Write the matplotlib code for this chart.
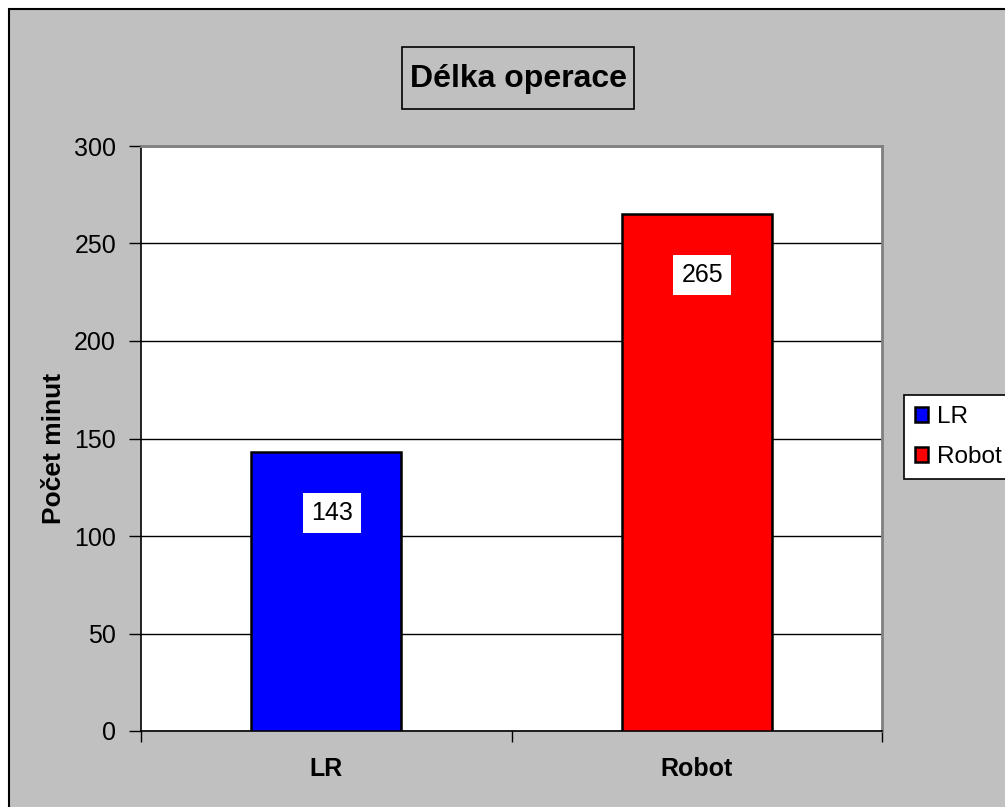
import matplotlib
matplotlib.use("Agg")
import matplotlib.pyplot as plt
from matplotlib.patches import Rectangle

plt.rcParams['font.family'] = ['Liberation Sans', 'DejaVu Sans']

# data
categories = ["LR", "Robot"]
minutes = [143, 265]
colors = ["#0000ff", "#ff0000"]
yticks = [0, 50, 100, 150, 200, 250, 300]

W, H = 1005, 807
fig = plt.figure(figsize=(W / 100, H / 100), dpi=100)
fig.patch.set_facecolor("white")

# gray chart area with border (runs off the right/bottom edge)
fig.patches.append(Rectangle((8.5 / W, -0.1), 1.2, 1 - 9 / H + 0.1,
                             transform=fig.transFigure, facecolor="#c0c0c0",
                             edgecolor="black", lw=1.5, zorder=-10))

ax = fig.add_axes([141 / W, 76 / H, 741 / W, 585 / H])
ax.set_zorder(1)
ax.set_facecolor("white")

x = list(range(len(categories)))
bars = ax.bar(x, minutes, width=0.405, color=colors, edgecolor="black",
              linewidth=1.8, zorder=3, label=categories)

for i, v in enumerate(minutes):
    ax.annotate(str(v), (x[i], v), xytext=(4, -44), textcoords="offset points",
                ha="center", va="center", fontsize=18, zorder=5,
                bbox=dict(boxstyle="square,pad=0.32", facecolor="white", edgecolor="none"))

ax.set_xlim(-0.5, 1.5)
ax.set_ylim(0, 300)
ax.set_yticks(yticks)
ax.tick_params(axis="y", labelsize=18, length=9, width=1, direction="out", pad=9)
ax.yaxis.grid(True, color="black", lw=1)
ax.set_axisbelow(True)

ax.set_xticks(x)
ax.set_xticklabels(categories, fontsize=18, fontweight="bold")
ax.set_xticks([-0.5, 0.5, 1.5], minor=True)
ax.tick_params(axis="x", which="major", length=0, pad=19)
ax.tick_params(axis="x", which="minor", length=8, width=1, direction="out")

for s in ["top", "right"]:
    ax.spines[s].set_color("#808080")
    ax.spines[s].set_linewidth(2)
for s in ["left", "bottom"]:
    ax.spines[s].set_color("black")
    ax.spines[s].set_linewidth(1.2)

fig.text(54 / W, 1 - 448 / H, "Počet minut", rotation=90, ha="center", va="center",
         fontsize=19, fontweight="bold")

# title with its own frame
fig.patches.append(Rectangle((402 / W, 1 - 109 / H), 232 / W, 62 / H,
                             transform=fig.transFigure, facecolor="#c0c0c0",
                             edgecolor="black", lw=1.2, zorder=-5))
fig.text(518 / W, 1 - 79 / H, "Délka operace", ha="center", va="center",
         fontsize=23, fontweight="bold")

leg = fig.legend(bars, categories, loc="upper left",
                 bbox_to_anchor=(904 / W, 1 - 395 / H), bbox_transform=fig.transFigure,
                 fontsize=17.5, frameon=True, fancybox=False, framealpha=1,
                 edgecolor="black", facecolor="white", handlelength=0.55,
                 handleheight=0.55, handletextpad=0.35, borderpad=0.45,
                 labelspacing=0.75, borderaxespad=0)
leg.get_frame().set_linewidth(1.2)

fig.savefig("out.png", dpi=100)
